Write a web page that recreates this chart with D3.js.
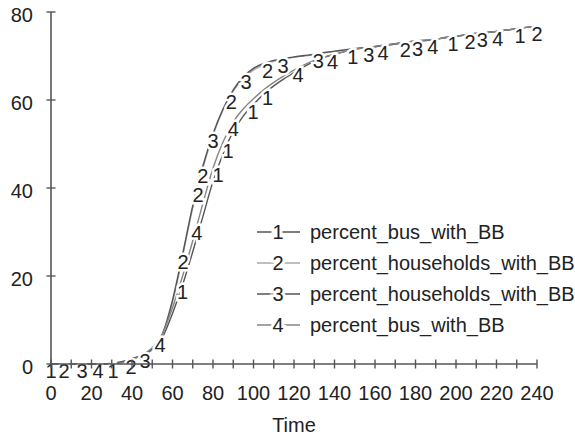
<!DOCTYPE html>
<html>
<head>
<meta charset="utf-8">
<script src="https://cdn.jsdelivr.net/npm/d3@7"></script>
<style>
  html, body { margin: 0; padding: 0; background: #fff; }
  svg { display: block; font-family: "Liberation Sans", Arial, Helvetica, sans-serif; }
</style>
</head>
<body>
<svg id="chart" width="575" height="437"></svg>
<script>
// ---- data ----
const times = [0,5,10,15,20,25,30,35,40,45,50,55,60,65,70,75,80,85,90,95,100,105,110,115,120,125,130,135,140,145,150,155,160,165,170,175,180,185,190,195,200,205,210,215,220,225,230,235,240];

const seriesNames = ["percent_bus_with_BB", "percent_households_with_BB", "percent_households_with_BB", "percent_bus_with_BB"];
const seriesIds = ["1", "2", "3", "4"];

const s1 = [0,0,0,0,0,0,0,0.3,1.0,2.0,3.4,6.0,11.5,18.0,25.5,33.5,41.5,47.8,52.8,56.4,59.0,61.3,63.2,64.8,66.2,67.6,68.8,69.7,70.4,71.0,71.5,71.9,72.2,72.5,72.8,73.1,73.4,73.6,73.8,74.2,74.5,74.8,75.1,75.3,75.6,75.9,76.2,76.5,76.7];
const s2 = [0,0,0,0,0,0,0.1,0.5,1.1,2.0,3.2,6.5,14.0,24.5,35.5,44.5,52.0,57.8,62.0,65.0,66.8,68.0,68.8,69.3,69.7,70.0,70.3,70.7,71.0,71.3,71.6,71.8,72.1,72.4,72.7,73.0,73.3,73.5,73.8,74.2,74.5,74.8,75.1,75.3,75.6,75.9,76.2,76.5,76.7];
const s3 = [0,0,0,0,0,0,0.1,0.5,1.2,2.1,3.4,6.8,14.5,25.0,36.0,45.0,52.3,58.0,62.3,65.3,67.2,68.3,69.0,69.4,69.8,70.1,70.4,70.8,71.1,71.4,71.7,71.9,72.1,72.4,72.7,73.0,73.3,73.5,73.8,74.2,74.5,74.8,75.1,75.3,75.6,75.9,76.2,76.5,76.7];
const s4 = [0,0,0,0,0,0,0,0.3,1.0,2.1,3.7,6.8,12.8,20.0,28.0,36.5,44.5,50.5,55.0,58.0,60.3,62.3,64.0,65.5,66.8,68.0,69.0,69.8,70.4,71.0,71.5,71.9,72.2,72.5,72.8,73.1,73.4,73.6,73.8,74.2,74.5,74.8,75.1,75.3,75.6,75.9,76.2,76.5,76.7];

// times at which each line carries its number label
const labelT1 = [0, 30.6, 65, 82.5, 87.4, 99.8, 107, 149, 198.5, 231.6];
const labelT2 = [6.4, 39.5, 65.2, 72.6, 75, 89, 107, 175, 207, 240];
const labelT3 = [15.3, 46.4, 80, 96.3, 114.6, 132, 157, 181, 213];
const labelT4 = [23.2, 53.8, 72, 90, 122, 139, 164, 188.6, 220.7];

const xTicks = [0,10,20,30,40,50,60,70,80,90,100,110,120,130,140,150,160,170,180,190,200,210,220,230,240];
const xTickLabels = [0,20,40,60,80,100,120,140,160,180,200,220,240];
const yTicks = [0,20,40,60,80];
const xTitle = "Time";

// ---- styles ----
const lineColors = ["#555", "#a8a8a8", "#555", "#858585"];
const series = [s1, s2, s3, s4];
const labelTimes = [labelT1, labelT2, labelT3, labelT4];

const svg = d3.select("#chart");
const x = d3.scaleLinear().domain([0, 240]).range([51, 537]);
const y = d3.scaleLinear().domain([0, 80]).range([364, 12]);

// value at time t (linear between samples)
function valueAt(vals, t) {
  const i = Math.min(d3.bisectRight(times, t), times.length - 1);
  if (i === 0) return vals[0];
  const t0 = times[i - 1], t1 = times[i];
  const f = t1 === t0 ? 0 : Math.max(0, Math.min(1, (t - t0) / (t1 - t0)));
  return vals[i - 1] + f * (vals[i] - vals[i - 1]);
}

const line = d3.line()
  .x((d, i) => x(times[i]))
  .y(d => y(d))
  .curve(d3.curveMonotoneX);

const gLines = svg.append("g");
series.forEach((vals, k) => {
  gLines.append("path")
    .attr("d", line(vals))
    .attr("fill", "none")
    .attr("stroke", lineColors[k])
    .attr("stroke-width", 1.4);
});

// number labels along lines
const gLab = svg.append("g");
labelTimes.forEach((arr, k) => {
  arr.forEach(t => {
    gLab.append("text")
      .attr("x", x(t))
      .attr("y", y(valueAt(series[k], t)))
      .attr("dy", "0.72em")
      .attr("text-anchor", "middle")
      .attr("font-size", 20)
      .attr("fill", "#222")
      .attr("stroke", "#fff")
      .attr("stroke-width", 5)
      .attr("paint-order", "stroke")
      .text(seriesIds[k]);
  });
});

// axes
const axisColor = "#555";
const gAx = svg.append("g");
gAx.append("line").attr("x1", x(0)).attr("x2", x(240)).attr("y1", y(0)).attr("y2", y(0))
  .attr("stroke", axisColor).attr("stroke-width", 1.6);
gAx.append("line").attr("x1", x(0)).attr("x2", x(0)).attr("y1", y(0)).attr("y2", y(80))
  .attr("stroke", axisColor).attr("stroke-width", 1.6);
gAx.selectAll(".xt").data(xTicks).enter().append("line")
  .attr("x1", d => x(d)).attr("x2", d => x(d))
  .attr("y1", y(0) - 4.5).attr("y2", y(0) + 4.5)
  .attr("stroke", axisColor).attr("stroke-width", 1.4);
gAx.selectAll(".yt").data(yTicks).enter().append("line")
  .attr("x1", x(0) - 4.5).attr("x2", x(0) + 4.5)
  .attr("y1", d => y(d)).attr("y2", d => y(d))
  .attr("stroke", axisColor).attr("stroke-width", 1.4);

gAx.selectAll(".xl").data(xTickLabels).enter().append("text")
  .attr("x", d => x(d)).attr("y", y(0) + 36)
  .attr("text-anchor", "middle").attr("font-size", 20).attr("fill", "#222")
  .text(d => d);
gAx.selectAll(".yl").data(yTicks).enter().append("text")
  .attr("x", 33).attr("y", d => y(d) + 10)
  .attr("text-anchor", "end").attr("font-size", 20).attr("fill", "#222")
  .text(d => d);
gAx.append("text")
  .attr("x", (x(0) + x(240)) / 2).attr("y", 432)
  .attr("text-anchor", "middle").attr("font-size", 20).attr("fill", "#222")
  .text(xTitle);

// legend
const gLeg = svg.append("g");
seriesNames.forEach((name, k) => {
  const cy = 232 + k * 31;
  gLeg.append("line").attr("x1", 257).attr("x2", 300).attr("y1", cy).attr("y2", cy)
    .attr("stroke", lineColors[k]).attr("stroke-width", 1.6);
  gLeg.append("text").attr("x", 278).attr("y", cy + 7)
    .attr("text-anchor", "middle").attr("font-size", 20).attr("fill", "#222")
    .attr("stroke", "#fff").attr("stroke-width", 6).attr("paint-order", "stroke")
    .text(seriesIds[k]);
  gLeg.append("text").attr("x", 310).attr("y", cy + 7)
    .attr("font-size", 20).attr("fill", "#222")
    .text(name);
});
</script>
</body>
</html>
